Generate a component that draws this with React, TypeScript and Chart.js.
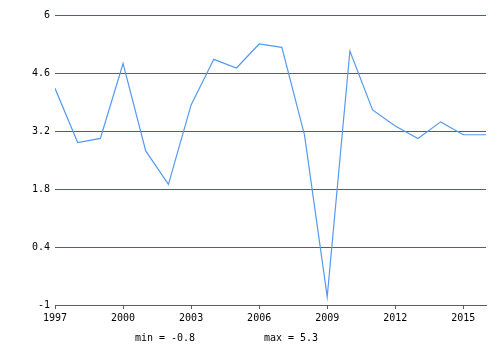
import React, { useEffect, useRef } from "react";
import { Chart, registerables } from "chart.js";

Chart.register(...registerables);

const years = [1997, 1998, 1999, 2000, 2001, 2002, 2003, 2004, 2005, 2006, 2007, 2008, 2009, 2010, 2011, 2012, 2013, 2014, 2015, 2016];
const values = [4.23, 2.92, 3.02, 4.83, 2.72, 1.91, 3.83, 4.93, 4.72, 5.3, 5.22, 3.1, -0.8, 5.13, 3.71, 3.32, 3.02, 3.42, 3.11, 3.11];
const xTicks = [1997, 2000, 2003, 2006, 2009, 2012, 2015];
const yTicks = [-1, 0.4, 1.8, 3.2, 4.6, 6];

const FONT = "'DejaVu Sans Mono', monospace";
const GRID = "#2f66a3";

export default function App() {
  const ref = useRef<HTMLCanvasElement | null>(null);
  const minV = Math.min(...values);
  const maxV = Math.max(...values);

  useEffect(() => {
    if (!ref.current) return;
    const chart = new Chart(ref.current, {
      type: "line",
      data: {
        datasets: [
          {
            data: years.map((y, i) => ({ x: y, y: values[i] })),
            borderColor: "#5599ee",
            borderWidth: 1.2,
            pointRadius: 0,
            tension: 0,
            fill: false,
          },
        ],
      },
      options: {
        animation: false,
        responsive: false,
        maintainAspectRatio: false,
        layout: { padding: { top: 15, right: 14, left: 0, bottom: 0 } },
        plugins: { legend: { display: false }, tooltip: { enabled: false } },
        scales: {
          x: {
            type: "linear",
            min: years[0],
            max: years[years.length - 1],
            afterBuildTicks: (s: any) => {
              s.ticks = xTicks.map((v) => ({ value: v }));
            },
            afterFit: (s: any) => {
              s.height = 45;
            },
            grid: { display: true, drawOnChartArea: false, drawTicks: true, tickLength: 4, color: GRID },
            border: { display: true, color: GRID, width: 1 },
            ticks: {
              color: "#000",
              font: { family: FONT, size: 10 },
              padding: 3,
              maxRotation: 0,
              autoSkip: false,
              callback: (v: any) => String(v),
            },
          },
          y: {
            type: "linear",
            min: -1,
            max: 6,
            afterBuildTicks: (s: any) => {
              s.ticks = yTicks.map((v) => ({ value: v }));
            },
            afterFit: (s: any) => {
              s.width = 55;
            },
            grid: { display: true, drawTicks: false, color: GRID, lineWidth: 1 },
            border: { display: false },
            ticks: {
              color: "#000",
              font: { family: FONT, size: 10 },
              padding: 5,
              callback: (v: any) => String(Math.round(Number(v) * 10) / 10),
            },
          },
        },
      },
    } as any);
    return () => chart.destroy();
  }, []);

  const labelStyle: React.CSSProperties = {
    position: "absolute",
    top: 331,
    fontFamily: FONT,
    fontSize: 10,
    color: "#000",
    lineHeight: "14px",
    transform: "translateX(-50%)",
    whiteSpace: "nowrap",
  };

  return (
    <div style={{ position: "fixed", left: 0, top: 0, width: 500, height: 350, background: "#fff" }}>
      <canvas ref={ref} width={500} height={350} style={{ display: "block", width: 500, height: 350 }} />
      <span style={{ ...labelStyle, left: 165 }}>min = {minV}</span>
      <span style={{ ...labelStyle, left: 291 }}>max = {maxV}</span>
    </div>
  );
}
